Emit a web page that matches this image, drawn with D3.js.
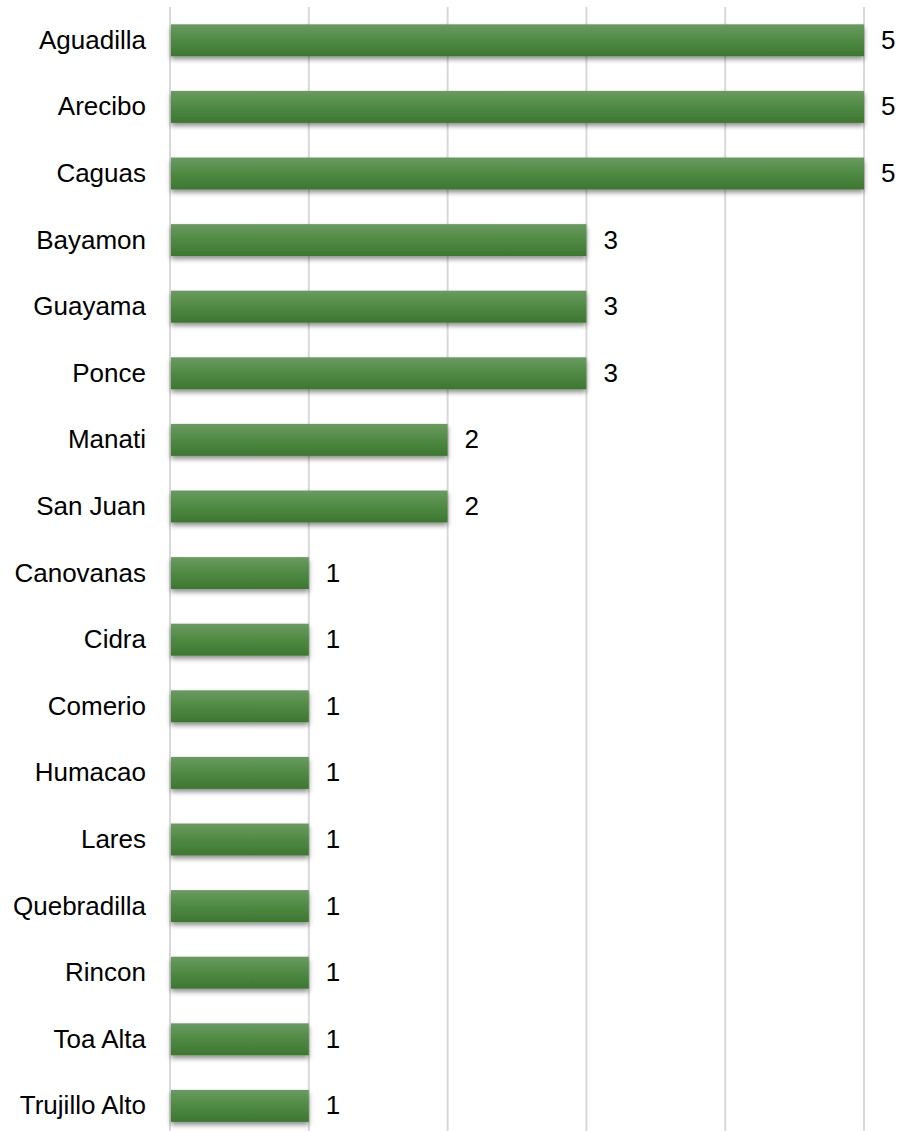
<!DOCTYPE html>
<html><head><meta charset="utf-8">
<script src="https://cdn.jsdelivr.net/npm/d3@7"></script>
<style>body{margin:0;background:#fff}svg{display:block}</style>
</head><body>
<script>
const categories = ["Aguadilla","Arecibo","Caguas","Bayamon","Guayama","Ponce","Manati","San Juan","Canovanas","Cidra","Comerio","Humacao","Lares","Quebradilla","Rincon","Toa Alta","Trujillo Alto"];
const values = [5,5,5,3,3,3,2,2,1,1,1,1,1,1,1,1,1];
const xTicks = [0,1,2,3,4,5];

const W = 899, H = 1131;
const svg = d3.select("body").append("svg").attr("width", W).attr("height", H);
const defs = svg.append("defs");
const grad = defs.append("linearGradient").attr("id","g").attr("x1",0).attr("y1",0).attr("x2",0).attr("y2",1);
grad.append("stop").attr("offset","0%").attr("stop-color","#6b9a62");
grad.append("stop").attr("offset","50%").attr("stop-color","#4f8a43");
grad.append("stop").attr("offset","100%").attr("stop-color","#3d7631");
const f = defs.append("filter").attr("id","sh").attr("x","-5%").attr("y","-30%").attr("width","110%").attr("height","180%");
f.append("feDropShadow").attr("dx",0).attr("dy",3).attr("stdDeviation",2.5).attr("flood-color","#000").attr("flood-opacity",0.45);

const x = d3.scaleLinear().domain([0,5]).range([170,864]);
const y = d3.scaleBand().domain(categories).range([7,7+17*66.6]).paddingInner(0.52).paddingOuter(0.26);

svg.append("g").selectAll("line").data(xTicks).join("line")
  .attr("x1",d=>x(d)).attr("x2",d=>x(d)).attr("y1",7).attr("y2",1131)
  .attr("stroke","#d9d9d9").attr("stroke-width",2);

svg.append("g").selectAll("rect").data(categories).join("rect")
  .attr("x",x(0)+1).attr("y",d=>y(d)).attr("height",y.bandwidth())
  .attr("width",(d,i)=>x(values[i])-x(0)-1)
  .attr("fill","url(#g)").attr("filter","url(#sh)");

svg.append("g").selectAll("text").data(categories).join("text")
  .attr("x",146).attr("y",d=>y(d)+y.bandwidth()/2).attr("dy","0.33em")
  .attr("text-anchor","end").attr("font-family","Liberation Sans, Arial, sans-serif")
  .attr("font-size",26).attr("fill","#000").text(d=>d);

svg.append("g").selectAll("text").data(categories).join("text")
  .attr("x",(d,i)=>x(values[i])+17).attr("y",d=>y(d)+y.bandwidth()/2).attr("dy","0.33em")
  .attr("font-family","Liberation Sans, Arial, sans-serif")
  .attr("font-size",26).attr("fill","#000").text((d,i)=>values[i]);
</script>
</body></html>
